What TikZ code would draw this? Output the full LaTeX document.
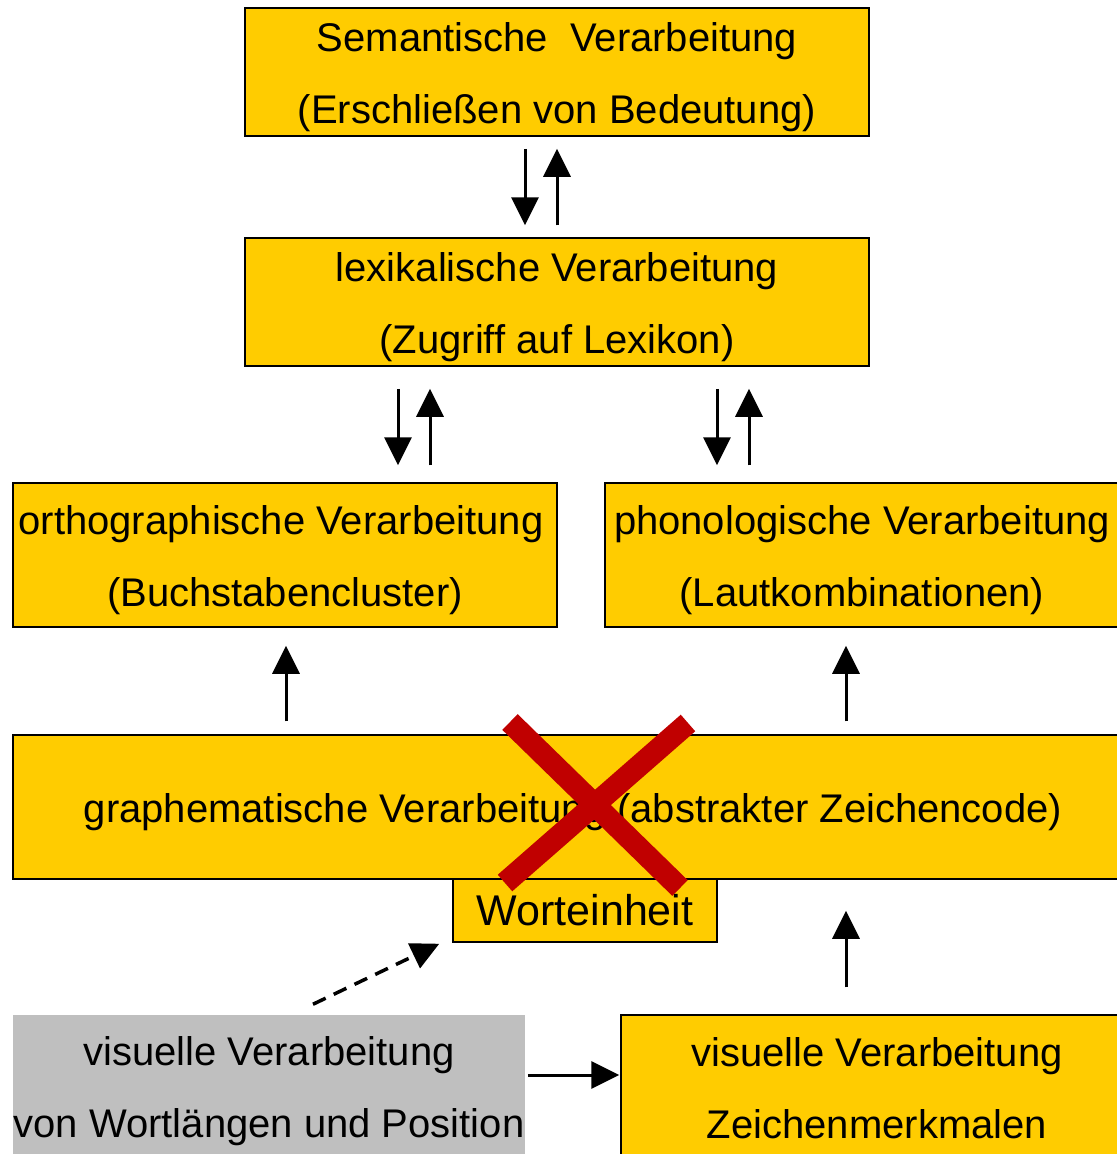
\documentclass[tikz,border=0pt]{standalone}
\usepackage{fontspec}
\setmainfont{Liberation Sans}
\usetikzlibrary{arrows.meta,calc}
\definecolor{boxfill}{HTML}{FFCC00}
\definecolor{grayfill}{HTML}{BFBFBF}
\definecolor{crossred}{HTML}{C00000}
% a strut that lowers the text a little inside its box
\newcommand{\liftstrut}[1][39bp]{\rule{0pt}{#1}}
\begin{document}
\begin{tikzpicture}[x=1bp,y=-1bp,
  box/.style={draw=black,line width=1.5bp,fill=boxfill,inner sep=0pt,align=center,
    font=\fontsize{40bp}{72bp}\selectfont},
  graybox/.style={box,draw=none,fill=grayfill},
  arr/.style={line width=3bp,-{Triangle[length=28bp 0 0,width=27bp 0 0]}},
  dasharr/.style={arr,line width=3.5bp,dash pattern=on 14bp off 9bp},
  cross/.style={draw=crossred,line width=22bp}]
\clip (0,0) rectangle (1117,1154);

% processing stages
\node[box,minimum width=624bp,minimum height=128bp] (sem) at (557,72)
  {\liftstrut Semantische\ \ Verarbeitung\\(Erschließen von Bedeutung)};
\node[box,minimum width=624bp,minimum height=128bp] (lex) at (557,302)
  {\liftstrut lexikalische Verarbeitung\\(Zugriff auf Lexikon)};
\node[box,minimum width=544bp,minimum height=144bp] (orth) at (285,555)
  {\liftstrut orthographische Verarbeitung\hspace*{8bp}\\(Buchstabencluster)};
\node[box,minimum width=514bp,minimum height=144bp] (phon) at (862,555)
  {\liftstrut phonologische Verarbeitung\\(Lautkombinationen)};
\node[box,minimum width=1120bp,minimum height=144bp] (graph) at (573,807)
  {\liftstrut graphematische Verarbeitung (abstrakter Zeichencode)};
\node[box,minimum width=264bp,minimum height=63bp,
  font=\fontsize{43bp}{50bp}\selectfont] (wort) at (585,910.5)
  {Worteinheit};
\node[graybox,minimum width=512bp,minimum height=146bp] (vis) at (269,1088)
  {\liftstrut[35bp]visuelle Verarbeitung\\von Wortlängen und Position};
\node[box,minimum width=512bp,minimum height=146bp] (vr) at (877,1088)
  {\liftstrut[29bp]visuelle Verarbeitung\\Zeichenmerkmalen};

% columns and rows for the connectors
\coordinate (c1) at (525,0);
\coordinate (c2) at (557,0);
\coordinate (c3) at (398,0);
\coordinate (c4) at (430,0);
\coordinate (c5) at (717,0);
\coordinate (c6) at (749,0);
\coordinate (c7) at (286,0);
\coordinate (c8) at (846,0);
\coordinate (r1) at (0,1075);

% connectors
\draw[arr,shorten <=12bp,shorten >=12bp] (sem.south -| c1) -- (lex.north -| c1);
\draw[arr,shorten <=12bp,shorten >=12bp] (lex.north -| c2) -- (sem.south -| c2);
\draw[arr,shorten <=22bp,shorten >=17bp] (lex.south -| c3) -- (orth.north -| c3);
\draw[arr,shorten <=17bp,shorten >=22bp] (orth.north -| c4) -- (lex.south -| c4);
\draw[arr,shorten <=22bp,shorten >=17bp] (lex.south -| c5) -- (phon.north -| c5);
\draw[arr,shorten <=17bp,shorten >=22bp] (phon.north -| c6) -- (lex.south -| c6);
\draw[arr,shorten <=13bp,shorten >=18bp] (graph.north -| c7) -- (orth.south -| c7);
\draw[arr,shorten <=13bp,shorten >=18bp] (graph.north -| c8) -- (phon.south -| c8);
\draw[arr,shorten <=27bp,shorten >=31bp] (vr.north -| c8) -- (graph.south -| c8);
\draw[arr,shorten <=2bp,shorten >=1bp] (vis.east |- r1) -- (vr.west |- r1);
\draw[dasharr] ($(vis.north)+(44,-10)$) -- ($(wort.south west)+(-13,1)$);

% crossing out
\draw[cross] (510,722) -- (680,888);
\draw[cross] (688,723) -- (505,883);
\end{tikzpicture}
\end{document}
